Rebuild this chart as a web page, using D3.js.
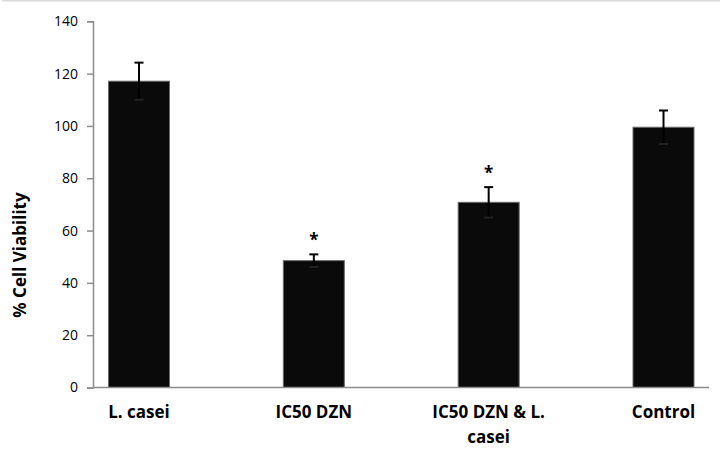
<!DOCTYPE html>
<html>
<head>
<meta charset="utf-8">
<script src="https://cdn.jsdelivr.net/npm/d3@7"></script>
<style>
  body { margin: 0; background: #fff; }
  text { font-family: "Open Sans", sans-serif; }
</style>
</head>
<body>
<svg id="chart"></svg>
<script>
// data
const groups = ["L. casei", "IC50 DZN", "IC50 DZN & L. casei", "Control"];
const viability = [117.1, 48.5, 70.8, 99.5];
const errors = [7.1, 2.4, 5.8, 6.4];
const significant = [false, true, true, false];
const yTicks = [0, 20, 40, 60, 80, 100, 120, 140];

const width = 723, height = 469;
const axisX = 93, axisEnd = 709;

const svg = d3.select("#chart")
  .attr("width", width)
  .attr("height", height);

// faint frame line at the top
svg.append("line")
  .attr("x1", 2).attr("x2", 720)
  .attr("y1", 0.5).attr("y2", 0.5)
  .attr("stroke", "#d9d9d9")
  .attr("stroke-width", 2);

const y = d3.scaleLinear().domain([0, 140]).range([387.5, 21.3]);
const x = d3.scalePoint().domain(groups).range([139, 663.5]);
const barW = 61;

// y axis
const yAxis = svg.append("g")
  .attr("transform", `translate(${axisX},0)`)
  .call(d3.axisLeft(y).tickValues(yTicks).tickSize(6).tickPadding(9));
yAxis.select(".domain").attr("stroke", "#8c8c8c").attr("stroke-width", 1.5);
yAxis.selectAll(".tick line").attr("stroke", "#8c8c8c").attr("stroke-width", 1.5);
yAxis.selectAll(".tick text")
  .attr("font-family", "Open Sans, sans-serif")
  .attr("font-size", 14)
  .attr("fill", "#000");

// bars
svg.selectAll("rect.bar")
  .data(groups)
  .enter()
  .append("rect")
  .attr("class", "bar")
  .attr("x", d => x(d) - barW / 2)
  .attr("width", barW)
  .attr("y", (d, i) => y(viability[i]))
  .attr("height", (d, i) => y(0) - y(viability[i]))
  .attr("fill", "#0a0a0a")
  .attr("stroke", "#6a6a6a")
  .attr("stroke-width", 1);

// x baseline
svg.append("line")
  .attr("x1", axisX).attr("x2", axisEnd)
  .attr("y1", y(0)).attr("y2", y(0))
  .attr("stroke", "#8c8c8c")
  .attr("stroke-width", 1.5);

// error bars
const err = svg.selectAll("g.err")
  .data(groups)
  .enter()
  .append("g")
  .attr("class", "err");
err.append("line")
  .attr("x1", d => x(d)).attr("x2", d => x(d))
  .attr("y1", (d, i) => y(viability[i] - errors[i]))
  .attr("y2", (d, i) => y(viability[i] + errors[i]))
  .attr("stroke", "#000").attr("stroke-width", 2);
err.append("line")
  .attr("x1", d => x(d) - 4.5).attr("x2", d => x(d) + 4.5)
  .attr("y1", (d, i) => y(viability[i] + errors[i]))
  .attr("y2", (d, i) => y(viability[i] + errors[i]))
  .attr("stroke", "#000").attr("stroke-width", 2);
err.append("line")
  .attr("x1", d => x(d) - 4.5).attr("x2", d => x(d) + 4.5)
  .attr("y1", (d, i) => y(viability[i] - errors[i]))
  .attr("y2", (d, i) => y(viability[i] - errors[i]))
  .attr("stroke", "#222").attr("stroke-width", 2);

// significance stars
svg.selectAll("text.star")
  .data(groups.filter((d, i) => significant[i]))
  .enter()
  .append("text")
  .attr("class", "star")
  .attr("x", d => x(d))
  .attr("y", d => { const i = groups.indexOf(d); return y(viability[i] + errors[i]) - 8; })
  .attr("text-anchor", "middle")
  .attr("font-size", 17)
  .attr("font-weight", "bold")
  .text("*");

// category labels (wrapped like the original)
const wrapWidth = 135;
svg.selectAll("text.cat")
  .data(groups)
  .enter()
  .append("text")
  .attr("class", "cat")
  .attr("text-anchor", "middle")
  .attr("font-size", 17)
  .attr("font-weight", "bold")
  .attr("fill", "#000")
  .each(function(d) {
    const t = d3.select(this);
    const words = d.split(" ");
    let lines = [], line = [];
    const probe = t.append("tspan");
    words.forEach(w => {
      line.push(w);
      probe.text(line.join(" "));
      if (probe.node().getComputedTextLength() > wrapWidth && line.length > 1) {
        line.pop();
        lines.push(line.join(" "));
        line = [w];
      }
    });
    lines.push(line.join(" "));
    probe.remove();
    lines.forEach((l, k) => {
      t.append("tspan")
        .attr("x", x(d))
        .attr("y", 418 + k * 25)
        .text(l);
    });
  });

// y axis title
svg.append("text")
  .attr("transform", "translate(26,255) rotate(-90)")
  .attr("text-anchor", "middle")
  .attr("font-size", 17)
  .attr("font-weight", "bold")
  .attr("fill", "#000")
  .text("% Cell Viability");
</script>
</body>
</html>
